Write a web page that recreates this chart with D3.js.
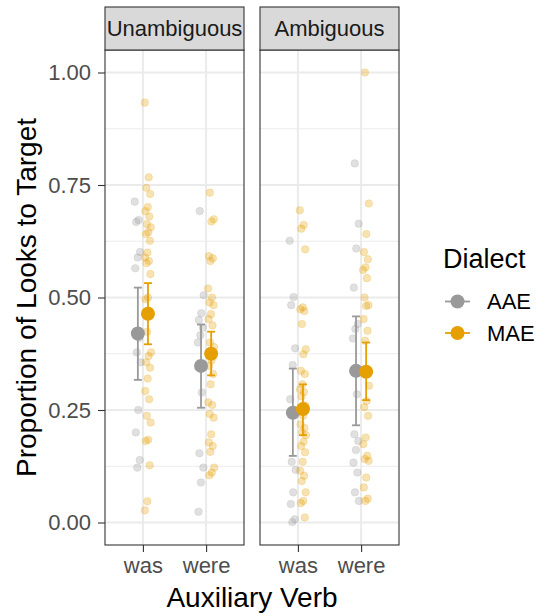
<!DOCTYPE html>
<html>
<head>
<meta charset="utf-8">
<script src="https://cdn.jsdelivr.net/npm/d3@7"></script>
<style>
  html, body { margin: 0; padding: 0; background: #fff; }
  svg { display: block; font-family: "Liberation Sans", Arial, Helvetica, sans-serif; }
</style>
</head>
<body>
<svg id="chart" width="536" height="615"></svg>
<script>
// ---------------- DATA ----------------
const panels = ["Unambiguous", "Ambiguous"];
const verbs = ["was", "were"];
const dialects = ["AAE", "MAE"];
const yTicks = [0, 0.25, 0.5, 0.75, 1.0];
const yTickLabels = ["0.00", "0.25", "0.50", "0.75", "1.00"];

// individual proportions (jittered points)
const unambWasAAE = [0.713, 0.672, 0.668, 0.601, 0.589, 0.565, 0.41, 0.378, 0.356, 0.25, 0.2, 0.139, 0.122];
const unambWasMAE = [0.933, 0.767, 0.744, 0.73, 0.701, 0.692, 0.68, 0.663, 0.656, 0.645, 0.641, 0.626, 0.6, 0.589, 0.581, 0.576, 0.552, 0.5, 0.496, 0.47, 0.424, 0.378, 0.37, 0.356, 0.344, 0.32, 0.292, 0.274, 0.237, 0.222, 0.184, 0.181, 0.127, 0.047, 0.027];
const unambWereAAE = [0.692, 0.505, 0.465, 0.45, 0.433, 0.416, 0.4, 0.289, 0.154, 0.122, 0.089, 0.024];
const unambWereMAE = [0.733, 0.674, 0.669, 0.592, 0.587, 0.581, 0.52, 0.5, 0.489, 0.483, 0.463, 0.452, 0.438, 0.4, 0.39, 0.36, 0.348, 0.33, 0.307, 0.267, 0.261, 0.241, 0.233, 0.196, 0.178, 0.17, 0.157, 0.122, 0.111, 0.105];
const ambWasAAE = [0.626, 0.501, 0.483, 0.387, 0.35, 0.274, 0.24, 0.135, 0.117, 0.067, 0.041, 0.007, 0.001];
const ambWasMAE = [0.694, 0.661, 0.653, 0.607, 0.478, 0.474, 0.47, 0.441, 0.385, 0.374, 0.337, 0.33, 0.307, 0.296, 0.29, 0.28, 0.26, 0.237, 0.218, 0.21, 0.2, 0.194, 0.18, 0.17, 0.156, 0.135, 0.115, 0.104, 0.092, 0.067, 0.048, 0.043, 0.011];
const ambWereAAE = [0.798, 0.664, 0.609, 0.522, 0.441, 0.43, 0.409, 0.285, 0.196, 0.181, 0.161, 0.133, 0.111, 0.067, 0.048];
const ambWereMAE = [1.0, 0.709, 0.641, 0.601, 0.585, 0.567, 0.561, 0.543, 0.5, 0.483, 0.481, 0.452, 0.426, 0.404, 0.304, 0.27, 0.256, 0.237, 0.189, 0.174, 0.148, 0.141, 0.137, 0.1, 0.078, 0.053, 0.048];

// summary (order: Unamb-was, Unamb-were, Amb-was, Amb-were)
const meanAAE = [0.42, 0.348, 0.244, 0.337];
const loAAE   = [0.317, 0.255, 0.148, 0.216];
const hiAAE   = [0.522, 0.44, 0.342, 0.458];
const meanMAE = [0.464, 0.375, 0.252, 0.335];
const loMAE   = [0.396, 0.327, 0.194, 0.272];
const hiMAE   = [0.532, 0.424, 0.307, 0.40];

// ---------------- BUILD ----------------
const pointSets = {
  "Unambiguous|was|AAE": unambWasAAE, "Unambiguous|was|MAE": unambWasMAE,
  "Unambiguous|were|AAE": unambWereAAE, "Unambiguous|were|MAE": unambWereMAE,
  "Ambiguous|was|AAE": ambWasAAE, "Ambiguous|was|MAE": ambWasMAE,
  "Ambiguous|were|AAE": ambWereAAE, "Ambiguous|were|MAE": ambWereMAE
};
const summary = [];
panels.forEach((p, pi) => verbs.forEach((v, vi) => {
  const k = pi * 2 + vi;
  summary.push({panel: p, verb: v, dialect: "AAE", mean: meanAAE[k], lo: loAAE[k], hi: hiAAE[k]});
  summary.push({panel: p, verb: v, dialect: "MAE", mean: meanMAE[k], lo: loMAE[k], hi: hiMAE[k]});
}));

const colors = {AAE: "#999999", MAE: "#E69F00"};
const svg = d3.select("#chart");
const pTop = 50, pBottom = 545;
const panelLeft = [105, 260], panelW = 139;
const stripTop = 7;

const y = d3.scaleLinear().domain([-0.05, 1.05]).range([pBottom, pTop]);
const xScales = panelLeft.map(l => d3.scaleLinear().domain([0.4, 2.6]).range([l, l + panelW]));
const dodge = {AAE: -0.08, MAE: 0.08};
const jitterW = 0.05;

panels.forEach((p, pi) => {
  const x = xScales[pi];
  const g = svg.append("g");
  g.append("rect").attr("x", panelLeft[pi]).attr("y", pTop).attr("width", panelW).attr("height", pBottom - pTop).attr("fill", "#fff");
  [0.125, 0.375, 0.625, 0.875].forEach(t => {
    g.append("line").attr("x1", panelLeft[pi]).attr("x2", panelLeft[pi] + panelW)
      .attr("y1", y(t)).attr("y2", y(t)).attr("stroke", "#ebebeb").attr("stroke-width", 1.1);
  });
  yTicks.forEach(t => {
    g.append("line").attr("x1", panelLeft[pi]).attr("x2", panelLeft[pi] + panelW)
      .attr("y1", y(t)).attr("y2", y(t)).attr("stroke", "#ebebeb").attr("stroke-width", 2);
  });
  verbs.forEach((v, vi) => {
    g.append("line").attr("x1", x(vi + 1)).attr("x2", x(vi + 1))
      .attr("y1", pTop).attr("y2", pBottom).attr("stroke", "#ebebeb").attr("stroke-width", 2);
  });

  verbs.forEach((v, vi) => dialects.forEach(d => {
    const vals = pointSets[p + "|" + v + "|" + d];
    g.selectAll(null).data(vals).enter().append("circle")
      .attr("cx", (val, i) => x(vi + 1 + dodge[d] + (((i * 0.618034 + vi * 0.3) % 1) - 0.5) * 2 * jitterW))
      .attr("cy", val => y(val))
      .attr("r", 3.8)
      .attr("fill", colors[d]).attr("fill-opacity", 0.3)
      .attr("stroke", colors[d]).attr("stroke-opacity", 0.22).attr("stroke-width", 0.8);
  }));

  const s = summary.filter(r => r.panel === p);
  s.forEach(r => {
    const cx = x(verbs.indexOf(r.verb) + 1 + dodge[r.dialect]);
    const c = colors[r.dialect];
    g.append("line").attr("x1", cx).attr("x2", cx).attr("y1", y(r.lo)).attr("y2", y(r.hi)).attr("stroke", c).attr("stroke-width", 1.8);
    [r.lo, r.hi].forEach(val => {
      g.append("line").attr("x1", cx - 4).attr("x2", cx + 4).attr("y1", y(val)).attr("y2", y(val)).attr("stroke", c).attr("stroke-width", 1.8);
    });
  });
  s.forEach(r => {
    const cx = x(verbs.indexOf(r.verb) + 1 + dodge[r.dialect]);
    g.append("circle").attr("cx", cx).attr("cy", y(r.mean)).attr("r", 7).attr("fill", colors[r.dialect]);
  });

  g.append("rect").attr("x", panelLeft[pi]).attr("y", pTop).attr("width", panelW).attr("height", pBottom - pTop)
    .attr("fill", "none").attr("stroke", "#333333").attr("stroke-width", 1.1);
  g.append("rect").attr("x", panelLeft[pi]).attr("y", stripTop).attr("width", panelW).attr("height", pTop - stripTop)
    .attr("fill", "#d9d9d9").attr("stroke", "#333333").attr("stroke-width", 1.1);
  g.append("text").attr("x", panelLeft[pi] + panelW / 2).attr("y", (stripTop + pTop) / 2)
    .attr("text-anchor", "middle").attr("dominant-baseline", "central")
    .attr("font-size", 22).attr("fill", "#1a1a1a").text(p);

  const xAxis = d3.axisBottom(x).tickValues([1, 2]).tickFormat((d) => verbs[d - 1]).tickSize(7).tickSizeOuter(0);
  const ax = svg.append("g").attr("transform", `translate(0,${pBottom})`).call(xAxis);
  ax.select(".domain").remove();
  ax.selectAll(".tick line").attr("stroke", "#333333").attr("stroke-width", 1.1);
  ax.selectAll(".tick text").attr("font-size", 22).attr("fill", "#4d4d4d").attr("dy", "0.71em").attr("y", 12)
    .style("font-family", "Liberation Sans, Arial, sans-serif");
});

const yAxis = d3.axisLeft(y).tickValues(yTicks).tickFormat((d, i) => yTickLabels[i]).tickSize(7).tickSizeOuter(0);
const ay = svg.append("g").attr("transform", `translate(${panelLeft[0]},0)`).call(yAxis);
ay.select(".domain").remove();
ay.selectAll(".tick line").attr("stroke", "#333333").attr("stroke-width", 1.1);
ay.selectAll(".tick text").attr("font-size", 22).attr("fill", "#4d4d4d").attr("x", -14)
  .style("font-family", "Liberation Sans, Arial, sans-serif");

svg.append("text").attr("x", (panelLeft[0] + panelLeft[1] + panelW) / 2).attr("y", 607)
  .attr("text-anchor", "middle").attr("font-size", 28).attr("fill", "#000").text("Auxiliary Verb");
svg.append("text").attr("transform", `translate(36,${(pTop + pBottom) / 2}) rotate(-90)`)
  .attr("text-anchor", "middle").attr("font-size", 28).attr("fill", "#000").text("Proportion of Looks to Target");

const lg = svg.append("g");
lg.append("text").attr("x", 443).attr("y", 268).attr("font-size", 27).attr("fill", "#000").text("Dialect");
const legendY = [301.5, 333];
dialects.forEach((d, i) => {
  lg.append("line").attr("x1", 445).attr("x2", 470).attr("y1", legendY[i]).attr("y2", legendY[i])
    .attr("stroke", colors[d]).attr("stroke-width", 1.8);
  lg.append("circle").attr("cx", 457.5).attr("cy", legendY[i]).attr("r", 7).attr("fill", colors[d]);
  lg.append("text").attr("x", 487).attr("y", legendY[i]).attr("dominant-baseline", "central")
    .attr("font-size", 22).attr("fill", "#000").text(d);
});
</script>
</body>
</html>
